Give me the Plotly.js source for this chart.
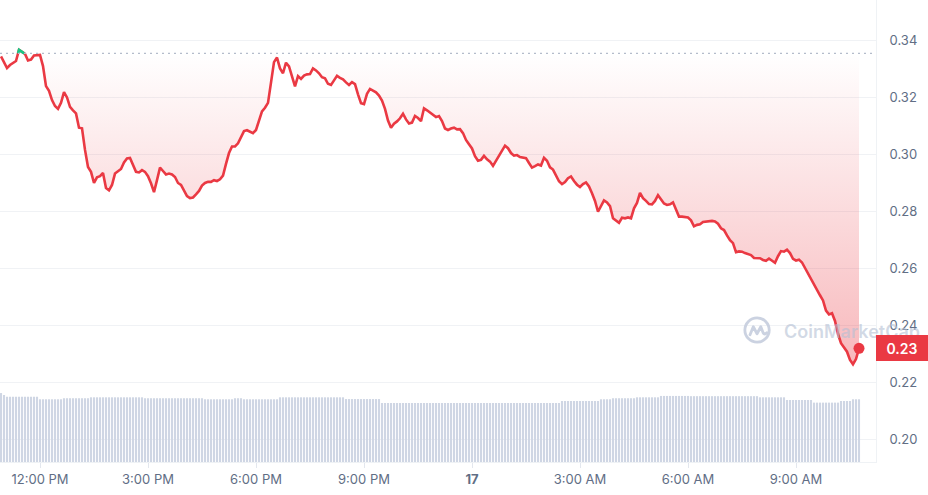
<!DOCTYPE html>
<html><head><meta charset="utf-8">
<script src="https://cdn.plot.ly/plotly-3.0.1.min.js"></script>
<style>html,body{margin:0;padding:0;background:#fff}#chart{width:928px;height:495px}</style>
</head><body><div id="chart"></div>
<script>
// 5-minute series, first point 10:55 on the 16th
const startTime = Date.UTC(2024, 4, 16, 10, 55);
const stepMinutes = 5;
const openPrice = 0.3354;

const prices = [
0.3343,0.3323,0.3302,0.3313,0.3321,0.3327,0.3366,0.3359,0.3352,0.3329,
0.3332,0.3346,0.3346,0.3348,0.3309,0.3239,0.3222,0.3190,0.3169,0.3159,
0.3180,0.3218,0.3199,0.3166,0.3154,0.3143,0.3093,0.3091,0.3015,0.2955,
0.2938,0.2899,0.2919,0.2923,0.2934,0.2881,0.2873,0.2892,0.2932,0.2941,
0.2948,0.2971,0.2985,0.2987,0.2960,0.2938,0.2936,0.2944,0.2938,0.2923,
0.2898,0.2867,0.2909,0.2953,0.2941,0.2929,0.2932,0.2929,0.2920,0.2899,
0.2892,0.2874,0.2853,0.2846,0.2848,0.2859,0.2871,0.2890,0.2899,0.2903,
0.2903,0.2909,0.2906,0.2912,0.2925,0.2966,0.3004,0.3027,0.3027,0.3038,
0.3062,0.3081,0.3084,0.3078,0.3074,0.3085,0.3116,0.3150,0.3163,0.3180,
0.3251,0.3323,0.3339,0.3301,0.3284,0.3321,0.3308,0.3268,0.3238,0.3274,
0.3264,0.3276,0.3280,0.3281,0.3301,0.3294,0.3284,0.3270,0.3266,0.3247,
0.3243,0.3259,0.3275,0.3268,0.3263,0.3252,0.3243,0.3253,0.3246,0.3210,
0.3179,0.3176,0.3212,0.3229,0.3222,0.3217,0.3206,0.3188,0.3159,0.3118,
0.3093,0.3107,0.3115,0.3126,0.3142,0.3122,0.3108,0.3111,0.3134,0.3127,
0.3116,0.3161,0.3154,0.3147,0.3138,0.3130,0.3134,0.3116,0.3090,0.3085,
0.3090,0.3093,0.3087,0.3088,0.3074,0.3050,0.3035,0.3020,0.2993,0.2977,
0.2980,0.2994,0.2982,0.2974,0.2959,0.2976,0.2997,0.3009,0.3030,0.3021,
0.3004,0.2995,0.2997,0.2990,0.2988,0.2986,0.2969,0.2953,0.2958,0.2964,
0.2960,0.2987,0.2977,0.2954,0.2946,0.2926,0.2905,0.2895,0.2902,0.2916,
0.2922,0.2906,0.2893,0.2885,0.2895,0.2901,0.2887,0.2863,0.2836,0.2798,
0.2819,0.2838,0.2831,0.2818,0.2775,0.2768,0.2759,0.2777,0.2775,0.2778,
0.2775,0.2810,0.2829,0.2864,0.2846,0.2836,0.2825,0.2824,0.2836,0.2856,
0.2843,0.2827,0.2822,0.2824,0.2831,0.2805,0.2781,0.2781,0.2779,0.2778,
0.2768,0.2747,0.2752,0.2754,0.2762,0.2764,0.2766,0.2766,0.2764,0.2756,
0.2740,0.2734,0.2715,0.2698,0.2688,0.2656,0.2659,0.2658,0.2653,0.2649,
0.2646,0.2636,0.2636,0.2635,0.2629,0.2626,0.2634,0.2627,0.2619,0.2642,
0.2660,0.2658,0.2665,0.2653,0.2633,0.2627,0.2630,0.2620,0.2600,0.2580,
0.2562,0.2545,0.2522,0.2505,0.2487,0.2451,0.2438,0.2442,0.2415,0.2369,
0.2337,0.2320,0.2307,0.2278,0.2263,0.2281,0.2319
];

// volume (millions), one bar per 5 minutes
const volumes = [
59.7,58.0,56.5,56.5,56.5,56.5,56.5,56.5,56.5,56.5,
56.5,56.5,56.5,54.3,54.3,54.3,54.3,54.3,54.3,54.3,
54.3,55.2,55.2,55.2,55.2,55.2,55.2,55.2,55.2,55.2,
56.0,56.0,56.0,56.0,56.0,56.0,56.0,56.0,56.0,56.0,
56.0,56.0,56.0,56.0,56.0,56.0,56.0,56.0,55.2,55.2,
55.2,55.2,55.2,55.2,55.2,55.2,55.2,55.2,55.2,55.2,
55.2,55.2,55.2,55.2,55.2,55.2,55.2,55.2,54.3,54.3,
54.3,54.3,54.3,54.3,54.3,54.3,54.3,54.3,55.2,55.2,
55.2,54.3,54.3,54.3,54.3,54.3,54.3,54.3,54.3,54.3,
54.3,54.3,54.3,56.0,56.0,56.0,56.0,56.0,56.0,56.0,
56.0,56.0,56.0,56.0,56.0,56.0,56.0,56.0,56.0,56.0,
56.0,56.0,56.0,56.0,56.0,54.5,54.5,54.5,54.5,54.5,
54.5,54.5,54.5,54.5,54.5,54.5,54.5,51.1,51.1,51.1,
51.1,51.1,51.1,51.1,51.1,51.1,51.1,51.1,51.1,51.1,
51.1,51.1,51.1,51.1,51.1,51.1,51.1,51.1,51.1,51.1,
51.1,51.1,51.1,51.1,51.1,51.1,51.1,51.1,51.1,51.1,
51.1,51.1,51.1,51.1,51.1,51.1,51.1,51.1,51.1,51.1,
51.1,51.1,51.1,51.1,51.1,51.1,51.1,51.1,51.1,51.1,
51.1,51.1,51.1,51.1,51.1,51.1,51.1,52.8,52.8,52.8,
52.8,52.8,52.8,52.8,52.8,52.8,52.8,52.8,52.8,52.8,
54.3,54.3,54.3,54.3,55.2,55.2,55.2,55.2,55.2,55.2,
55.2,55.2,56.0,56.0,56.0,56.0,56.0,56.0,56.0,56.0,
57.2,57.2,57.2,57.2,57.2,57.2,57.2,57.2,57.2,57.2,
57.0,57.0,57.0,57.0,57.0,57.0,57.0,57.0,57.0,57.0,
57.0,57.0,57.0,57.0,57.0,57.0,57.0,57.0,57.0,57.0,
57.0,57.0,57.0,56.0,56.0,56.0,56.0,56.0,56.0,56.0,
56.0,56.0,53.7,53.7,53.7,53.7,53.7,53.7,53.7,53.7,
53.7,51.4,51.4,51.4,51.4,51.4,51.4,51.4,51.4,51.4,
52.8,52.8,52.8,52.8,54.3,54.3,54.3
];

const tickTimes = ['2024-05-16 12:00','2024-05-16 15:00','2024-05-16 18:00','2024-05-16 21:00',
                   '2024-05-17 00:00','2024-05-17 03:00','2024-05-17 06:00','2024-05-17 09:00'];
const tickLabels = ['12:00 PM','3:00 PM','6:00 PM','9:00 PM','<b>17</b>','3:00 AM','6:00 AM','9:00 AM'];
const yTicks = [0.20,0.22,0.24,0.26,0.28,0.30,0.32,0.34];
const xRange = ['2024-05-16 10:53:20','2024-05-17 11:13:20'];
const yRange = [0.192, 0.3541];

function fmt(ms){ return new Date(Math.round(ms)).toISOString().slice(0,19).replace('T',' '); }
const tms = prices.map((_, i) => startTime + i * stepMinutes * 60000);
const times = tms.map(fmt);

// portion above open price drawn green
const gx = [], gy = [];
for (let i = 0; i < prices.length; i++) {
  const p = prices[i];
  if (i > 0) {
    const q = prices[i-1];
    if ((q < openPrice) !== (p < openPrice)) {
      const f = (openPrice - q) / (p - q);
      gx.push(fmt(tms[i-1] + f * (tms[i] - tms[i-1]))); gy.push(openPrice);
      if (p < openPrice) { gx.push(null); gy.push(null); }
    }
  }
  if (p >= openPrice) { gx.push(times[i]); gy.push(p); }
}

const red = '#ea3943', green = '#16c784';
const last = prices.length - 1;

const traces = [
  { type:'bar', x:times, y:volumes, yaxis:'y2', marker:{color:'#cfd6e4'}, hoverinfo:'skip' },
  { type:'scatter', mode:'lines', x:times, y:prices.map(() => openPrice), line:{width:0, color:'rgba(0,0,0,0)'}, hoverinfo:'skip' },
  { type:'scatter', mode:'lines', x:times, y:prices, fill:'tonexty',
    fillgradient:{type:'vertical', start:0.225, stop:openPrice,
      colorscale:[[0,'rgba(234,57,67,0.36)'],[1,'rgba(234,57,67,0.0)']]},
    line:{color:red, width:2.6} },
  { type:'scatter', mode:'lines', x:gx, y:gy, line:{color:green, width:2.6}, connectgaps:false },
  { type:'scatter', mode:'markers', x:[times[last]], y:[prices[last]], marker:{color:red, size:11} }
];

const logoSvg = "<svg xmlns='http://www.w3.org/2000/svg' viewBox='0 0 32 32'><circle cx='16' cy='16' r='13' fill='none' stroke='#c6cede' stroke-width='3'/><path d='M8.5 21 L12 12.5 L16 20 L20 12.5 L22.5 19 Q24 21.5 26.5 19' fill='none' stroke='#c6cede' stroke-width='3' stroke-linecap='round' stroke-linejoin='round'/></svg>";

const layout = {
  width:928, height:495,
  margin:{l:0, r:52, t:0, b:33, pad:0},
  paper_bgcolor:'#ffffff', plot_bgcolor:'#ffffff',
  showlegend:false,
  font:{family:'Inter, "Open Sans", sans-serif', color:'#616e85', size:13},
  bargap:0.3,
  xaxis:{ type:'date', range:xRange, tickvals:tickTimes, ticktext:tickLabels,
    ticks:'outside', ticklen:5, tickcolor:'#e3e7ee', showgrid:false, zeroline:false,
    showline:true, linecolor:'#eff2f5', tickfont:{size:13, color:'#616e85'} },
  yaxis:{ side:'right', range:yRange, tickvals:yTicks, tickformat:'.2f',
    showgrid:true, gridcolor:'#f0f2f5', zeroline:false, showline:true, linecolor:'#eff2f5',
    ticks:'outside', ticklen:10, tickcolor:'rgba(0,0,0,0)', tickfont:{size:13, color:'#616e85'} },
  yaxis2:{ overlaying:'y', range:[0,400], visible:false },
  shapes:[{ type:'line', xref:'paper', x0:0, x1:1, yref:'y', y0:openPrice, y1:openPrice,
    line:{color:'#b4bccb', width:1.3, dash:'2px,4px'} }],
  images:[{ source:'data:image/svg+xml;charset=utf-8,' + encodeURIComponent(logoSvg),
    xref:'paper', yref:'paper', x:0.8642, y:0.2857, sizex:0.0342, sizey:0.0649,
    xanchor:'center', yanchor:'middle', sizing:'contain', layer:'above', opacity:0.9 }],
  annotations:[
    { xref:'paper', yref:'paper', x:0.8927, y:0.2835, xanchor:'left', yanchor:'middle',
      text:'CoinMarketCap', showarrow:false,
      font:{family:'Inter, sans-serif', size:18, weight:600, color:'rgba(180,191,212,0.6)'} },
    { xref:'paper', x:1, xanchor:'left', yref:'y', y:prices[last], yanchor:'middle',
      text:prices[last].toFixed(2), showarrow:false, bgcolor:red, borderwidth:0, borderpad:5,
      width:42, height:16, align:'center',
      font:{family:'Inter, sans-serif', size:14, weight:600, color:'#ffffff'} }
  ]
};

Plotly.newPlot('chart', traces, layout, {staticPlot:true, displayModeBar:false});
</script>
</body></html>
